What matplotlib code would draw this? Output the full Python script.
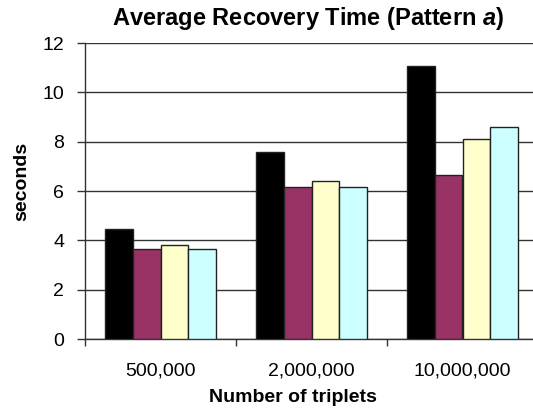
import matplotlib
matplotlib.use("Agg")
import matplotlib.pyplot as plt
import numpy as np

plt.rcParams['font.family'] = ['Liberation Sans', 'DejaVu Sans']
plt.rcParams['mathtext.fontset'] = 'custom'
plt.rcParams['mathtext.it'] = 'Liberation Sans:italic:bold'

groups = ["500,000", "2,000,000", "10,000,000"]
s1 = [4.45, 7.6, 11.05]
s2 = [3.65, 6.15, 6.65]
s3 = [3.8, 6.4, 8.1]
s4 = [3.65, 6.15, 8.6]
series = [s1, s2, s3, s4]
colors = ["#000000", "#993366", "#FFFFCC", "#CCFFFF"]

W, H = 533, 412
fig = plt.figure(figsize=(W / 100, H / 100), dpi=100)
# plot area runs a bit past the right edge, like the original
ax = fig.add_axes([85/W, (H-339)/H, 453/W, 296/H])

x = np.arange(len(groups))
w = 0.184
for i, (vals, c) in enumerate(zip(series, colors)):
    ax.bar(x + (i - 1.5) * w, vals, w, color=c, edgecolor="#222222",
           linewidth=1.0, zorder=3)

ax.set_xlim(-0.5, 2.5)
ax.set_ylim(0, 12)
ax.set_yticks(range(0, 13, 2))
ax.yaxis.grid(True, color="#333333", linewidth=1.0, zorder=0)
ax.set_axisbelow(True)
ax.set_xticks(x)
ax.set_xticklabels(groups, fontsize=14)
ax.set_xticks([-0.5, 0.5, 1.5, 2.5], minor=True)
ax.tick_params(axis='x', which='major', length=0, pad=17)
ax.tick_params(axis='x', which='minor', length=5, width=1, color="#333333")
ax.tick_params(axis='y', length=6, width=1, color="#333333", labelsize=14, pad=9)
for s in ["top", "right"]:
    ax.spines[s].set_visible(False)
for s in ["left", "bottom"]:
    ax.spines[s].set_color("#333333")
    ax.spines[s].set_linewidth(1.0)

fig.text(22/W, 1 - 181/H, "seconds", fontsize=14, fontweight="bold",
         rotation=90, ha="center", va="center")
fig.text(293/W, 1 - 397/H, "Number of triplets", fontsize=14,
         fontweight="bold", ha="center", va="center")
fig.text(308/W, 1 - 19/H, "Average Recovery Time (Pattern $a$)", fontsize=17,
         fontweight="bold", ha="center", va="center")

fig.savefig("out.png", dpi=100)
